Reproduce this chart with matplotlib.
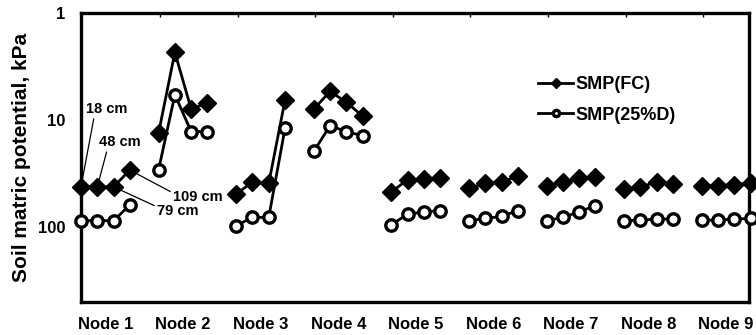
import matplotlib
matplotlib.use("Agg")
import matplotlib.pyplot as plt
from matplotlib.ticker import FixedLocator, NullLocator
import numpy as np

# Soil matric potential (kPa) at four depths for each node
nodes = ["Node 1", "Node 2", "Node 3", "Node 4", "Node 5",
         "Node 6", "Node 7", "Node 8", "Node 9"]
depths = ["18 cm", "48 cm", "79 cm", "109 cm"]

smp_fc = [
    [42, 42, 42, 29.3],
    [13.2, 2.33, 7.9, 6.9],
    [49, 38, 39, 6.5],
    [7.9, 5.4, 6.8, 9.2],
    [47, 36, 35.6, 34.8],
    [43.5, 38.8, 37.7, 33.6],
    [41, 38, 34.8, 34.3],
    [44, 42, 38, 39.6],
    [41, 41, 40, 38.8],
]
smp_25d = [
    [87, 87, 87, 62],
    [29.1, 5.8, 12.8, 12.8],
    [97, 81, 81, 11.9],
    [19.6, 11.3, 12.8, 14.0],
    [95, 75.6, 72, 70],
    [87, 83, 79.4, 70],
    [87, 81, 72, 63],
    [87, 86, 84, 84],
    [86, 86, 84, 83],
]
y_ticks = [1, 10, 100]
y_tick_labels = ["1", "10", "100"]

FONT = "Liberation Sans"
plt.rcParams["font.family"] = [FONT, "DejaVu Sans"]
plt.rcParams["font.weight"] = "bold"

fig = plt.figure(figsize=(7.56, 3.35), dpi=100)
ax = fig.add_axes([81 / 756, 1 - 302 / 335, (749 - 81) / 756, (302 - 13) / 335])

step = 0.21  # spacing between depths within a node group
offsets = np.arange(len(depths)) * step

for i, node in enumerate(nodes):
    xs = i + offsets
    ax.plot(xs, smp_fc[i], color="black", lw=2.0, marker="D", ms=9.5,
            mfc="black", mec="black", clip_on=False, zorder=3,
            label="SMP(FC)" if i == 0 else None)
    ax.plot(xs, smp_25d[i], color="black", lw=2.0, marker="o", ms=8.2,
            mfc="white", mec="black", mew=2.4, clip_on=False, zorder=3,
            label="SMP(25%D)" if i == 0 else None)

ax.set_yscale("log")
ax.set_ylim(500, 1)
ax.set_xlim(0, 8.61)

ax.yaxis.set_major_locator(FixedLocator(y_ticks))
ax.yaxis.set_minor_locator(NullLocator())
ax.set_yticklabels(y_tick_labels)
ax.tick_params(axis="y", length=0, pad=11, labelsize=12)

centers = np.arange(len(nodes)) + offsets.mean()
ax.set_xticks(centers)
ax.set_xticklabels(nodes)
ax.xaxis.set_minor_locator(FixedLocator(np.arange(1, len(nodes)) + 0.02))
ax.tick_params(axis="x", which="major", length=0, pad=11, labelsize=12)
ax.tick_params(axis="x", which="minor", top=True, bottom=False,
               direction="in", length=3, width=1)

for s in ax.spines.values():
    s.set_linewidth(2.4)

ax.set_ylabel("Soil matric potential, kPa", fontsize=15, fontweight="bold",
              labelpad=5)

# Depth labels on the first node
line_kw = dict(arrowstyle="-", lw=0.9, color="black", shrinkA=0, shrinkB=4)
text_kw = dict(fontsize=10.5, fontweight="bold", ha="left", va="center")
ax.annotate(depths[0], xy=(offsets[0], smp_fc[0][0]), xytext=(0.064, 7.9),
            arrowprops={**line_kw, "relpos": (0.2, 0.0)}, **text_kw)
ax.annotate(depths[1], xy=(offsets[1], smp_fc[0][1]), xytext=(0.232, 16.1),
            arrowprops={**line_kw, "relpos": (0.2, 0.0)}, **text_kw)
ax.annotate(depths[3], xy=(offsets[3], smp_fc[0][3]), xytext=(1.186, 52.5),
            arrowprops={**line_kw, "relpos": (0.0, 0.8)}, **text_kw)
ax.annotate(depths[2], xy=(offsets[2], smp_fc[0][2]), xytext=(0.98, 70.8),
            arrowprops={**line_kw, "relpos": (0.0, 0.8)}, **text_kw)

leg = ax.legend(loc="upper left", bbox_to_anchor=((538 - 81) / 668, 1 - (76 - 13) / 289),
                frameon=False, borderpad=0, borderaxespad=0, numpoints=1,
                handlelength=1.95, handletextpad=0.1, labelspacing=0.75,
                prop={"family": FONT, "weight": "bold", "size": 13},
                markerscale=0.55)

fig.savefig("out.png", dpi=100)
